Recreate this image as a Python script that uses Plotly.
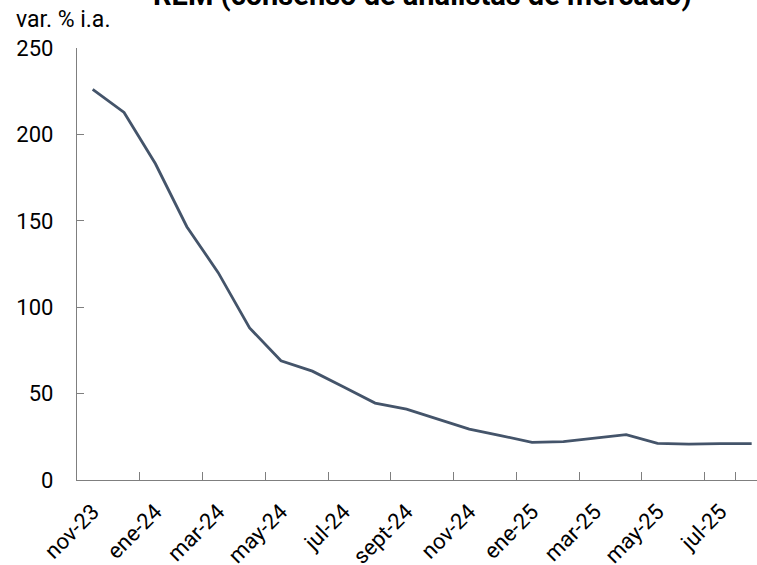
import plotly.graph_objects as go

months = ["nov-23", "dic-23", "ene-24", "feb-24", "mar-24", "abr-24", "may-24", "jun-24",
          "jul-24", "ago-24", "sept-24", "oct-24", "nov-24", "dic-24", "ene-25", "feb-25",
          "mar-25", "abr-25", "may-25", "jun-25", "jul-25", "ago-25"]
rem_values = [226.0, 212.7, 183.0, 146.6, 120.0, 88.0, 69.0, 63.0,
               53.8, 44.5, 41.0, 35.2, 29.5, 25.7, 21.8, 22.2,
               24.3, 26.3, 21.2, 20.8, 21.1, 21.1]
y_ticks = [0, 50, 100, 150, 200, 250]
title_text = "REM (consenso de analistas de mercado)"
y_label = "var. % i.a."

FONT = "Roboto"
W, H = 757, 565
L, R, T, B = 77, 0, 48, 85
plot_w = W - L - R
plot_h = H - T - B

fig = go.Figure()
fig.add_trace(go.Scatter(
    x=months, y=rem_values, mode="lines",
    line=dict(color="#44546A", width=2.8),
    hoverinfo="skip", showlegend=False,
))

fig.update_layout(
    width=W, height=H,
    margin=dict(l=L, r=R, t=T, b=B, pad=0, autoexpand=False),
    paper_bgcolor="white", plot_bgcolor="white",
    font=dict(family=FONT, size=22, color="#000000"),
    showlegend=False,
)

fig.update_xaxes(
    type="category",
    categoryorder="array", categoryarray=months,
    range=[-0.5, 21.17],
    tickvals=months[::2], ticktext=months[::2],
    tickson="boundaries",
    ticks="inside", ticklen=8, tickcolor="#7f7f7f", tickwidth=1,
    tickangle=-45,
    ticklabelstandoff=9,
    tickfont=dict(family=FONT, size=22, color="#000000"),
    showline=True, linecolor="#7f7f7f", linewidth=1.3,
    showgrid=False, zeroline=False, automargin=False,
)
fig.update_yaxes(
    range=[0, 250],
    tickvals=y_ticks,
    ticks="inside", ticklen=7, tickcolor="#7f7f7f", tickwidth=1,
    tickfont=dict(family=FONT, size=22, color="#000000"),
    ticklabelstandoff=18,
    showline=True, linecolor="#7f7f7f", linewidth=1.3,
    showgrid=False, zeroline=False, automargin=False,
)

# title (partly cut off at top, as in the reference)
fig.add_annotation(
    text="<b>" + title_text + "</b>",
    xref="paper", yref="paper",
    x=(422 - L) / plot_w, y=(H - B - (-5)) / plot_h,
    xanchor="center", yanchor="middle",
    showarrow=False,
    font=dict(family=FONT, size=29, color="#000000"),
)
fig.add_annotation(
    text=y_label,
    xref="paper", yref="paper",
    x=(14 - L) / plot_w, y=(H - B - 20) / plot_h,
    xanchor="left", yanchor="middle",
    showarrow=False,
    font=dict(family=FONT, size=23, color="#000000"),
)

fig.write_html("out.html",
               config={"displayModeBar": False},
               post_script="document.body.style.margin='0';document.body.style.overflow='hidden';")
